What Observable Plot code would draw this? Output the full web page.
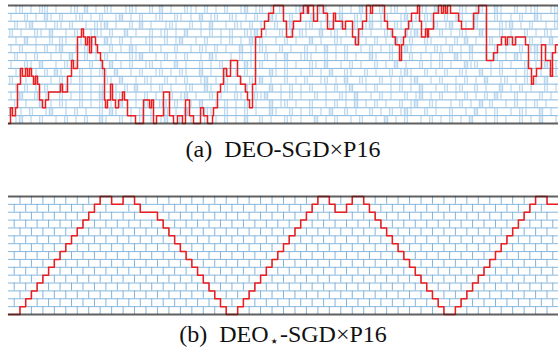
<!DOCTYPE html>
<html><head><meta charset="utf-8">
<script src="https://cdn.jsdelivr.net/npm/d3@7"></script>
<script src="https://cdn.jsdelivr.net/npm/@observablehq/plot@0.6"></script>
<style>
html,body{margin:0;padding:0;background:#fff;}
#wrap{position:relative;width:558px;height:354px;overflow:hidden;background:#fff;}
#pa{position:absolute;left:0;top:0;}
#pb{position:absolute;left:0;top:191px;}
.cap{position:absolute;left:0;width:566px;text-align:center;font-family:"Liberation Serif","DejaVu Serif",serif;font-size:24px;line-height:24px;color:#111;white-space:nowrap;}
.st{font-family:"DejaVu Sans",sans-serif;font-size:15px;position:relative;top:4px;margin:0 1px;}
</style></head><body>
<div id="wrap">
  <div id="pa"></div>
  <div class="cap" style="top:137px">(a)&ensp;DEO-SGD×P16</div>
  <div id="pb"></div>
  <div class="cap" style="top:322px">(b)&ensp;DEO<span class="st">⋆</span>-SGD×P16</div>
</div>
<script>
// ---------- shared ----------
const innerLevels = [1,2,3,4,5,6,7,8,9,10,11,12,13,14];
const borderLevels = [0,15];
const pairs = [0,1,2,3,4,5,6,7,8,9,10,11,12,13,14];

// ---------- panel (a): DEO-SGD x P16 ----------
// red chain path: change points (iteration, level)
const aIter = [0,2,4,7,9,12,14,17,19,21,23,25,27,29,31,34,37,40,52,54,59,63,65,69,73,75,77,79,81,83,87,89,92,94,96,97,99,102,104,107,110,114,116,119,127,
  135,141,143,145,148,155,161,165,169,174,177,181,185,192,195,199,204,205,209,212,215,218,222,229,232,237,239,241,244,247,253,256,260,265,
  275,278,284,285,292,295,299,300,305,309,315,319,325,327,334,337,344,347,350,354,358,362,364,376,379,384,387,391,393,395,397,400,403,409,
  411,413,417,419,420,425,430,433,435,437,439,442,450,453,465,470,478,485,489,493,497,499,504,507,517,520,523,525,528,533,537,542,544,547];
const aLevel = [0,2,1,2,5,7,6,7,6,7,6,5,6,5,3,2,3,4,5,4,6,8,7,11,12,11,10,11,9,11,10,9,8,7,3,2,3,5,3,2,3,4,3,1,0,
  3,2,3,0,1,4,1,0,1,0,3,1,0,2,1,0,1,2,4,5,7,6,8,6,5,4,3,2,5,11,12,13,14,15,
  13,11,12,13,14,15,14,15,13,15,14,12,14,13,12,13,11,10,12,13,15,14,15,13,12,11,10,8,10,11,12,13,14,15,
  13,11,12,11,12,14,15,14,15,14,15,14,13,12,14,15,8,9,10,11,10,11,10,11,10,7,5,6,7,10,8,6,9,10];

// swap marks between neighbouring levels, top pair (14-15) first; digits = marks per 5-iteration bin
const aSwapRows = [
  "0120102201 0012030102 1001210020 3010021102 0102001301 2010200131 0021002010 3100201201 0021030100 2101200310 0201120012",
  "1002010310 2001201020 0130102001 2002101030 1200210102 0031002010 1201003002 1020120013 0102100201 2003010210 1020031002",
  "0201300102 1020010213 0100203010 0121002010 3001021020 1002013001 2010201002 0130100210 2001020130 0102010021 3010200102",
  "2010021030 0102001210 2003010020 1201030010 2010200213 0100201021 0030120100 2010021002 1301002010 2100310020 1002010210",
  "0103010020 2100102003 1020100120 0201300102 0010201031 2001020100 3010021002 0102010310 2002100102 0301002010 2100201030",
  "1020010201 3001020100 2010310020 1002001021 0201003010 2100201002 0103010200 1020102003 1001021020 1030010201 0020130100",
  "0201020010 1030020102 0100213001 0201020010 3100102010 0201030012 1002010201 0031002010 2010102003 1020010201 0310020010",
  "1002103001 0201002010 3010200120 1003010020 1020100310 2001020100 2103001020 1002010301 0020102010 0312001020 1002010301",
  "0120010203 1000201021 0300102001 2010210030 1002010201 0031020010 2010300210 0201002013 1002010200 2100301020 0102001021",
  "2001030010 2010201002 1030010210 0201020013 0102001020 3010020102 0012010300 2100201020 1300102001 0201030012 0102010300",
  "0102010200 3100201020 0102030010 2010012003 1002010201 0030102010 2001020130 0102001020 1030010201 2002010030 1020100201",
  "1030020100 2010201030 0120010201 0020130100 2010021002 1300102010 0201002103 0010201002 0130102001 0201020310 0201002010",
  "0201003010 2100201020 1030010200 2102001030 0102010201 0030120100 2001020103 0102010020 1300210010 2010302001 0201020100",
  "2010200130 0102010020 3100102010 0201030012 1002010201 0031002010 2010300201 0020102013 1002010020 0103010200 1021003010",
  "0130102001 0201020031 0020102010 1300201002 0102010300 2010021010 0301020010 2001030102 0010201020 1030010201 0020103001"
];
const aMaxIter = 550;

// ---------- panel (b): DEO*-SGD x P16 ----------
const bStepMax = 96;
const bAttemptSteps = [1,2,3,4,5,6,7,8,9,10,11,12,13,14,15,16,17,18,19,20,21,22,23,24,25,26,27,28,29,30,31,32,33,34,35,36,37,38,39,40,
  41,42,43,44,45,46,47,48,49,50,51,52,53,54,55,56,57,58,59,60,61,62,63,64,65,66,67,68,69,70,71,72,73,74,75,76,77,78,79,80,
  81,82,83,84,85,86,87,88,89,90,91,92,93,94,95];
const bStep = [0,2,3,4,5,6,7,8,9,10,11,12,13,14,15,16,18,20,22,23,26,27,28,29,30,31,32,33,34,35,36,37,38,40,41,42,43,44,45,46,47,48,49,50,51,52,53,54,56,57,59,60,62,63,64,65,66,67,68,69,70,71,72,73,74,75,76,78,79,80,81,82,83,84,85,86,87,88,89,90,91,92,94];
const bLevel = [0,1,2,3,4,5,6,7,8,9,10,11,12,13,14,15,14,15,14,13,12,11,10,9,8,7,6,5,4,3,2,1,0,1,2,3,4,5,6,7,8,9,10,11,12,13,14,15,14,13,14,15,14,13,12,11,10,9,8,7,6,5,4,3,2,1,0,1,2,3,4,5,6,7,8,9,10,11,12,13,14,15,14];

// ---------- build tables ----------
const aPath = aIter.map((u, i) => ({u, level: aLevel[i]}));
aPath.push({u: aMaxIter, level: aLevel[aLevel.length - 1]});
const aMarks = [];
aSwapRows.forEach((s, r) => {
  const pair = pairs[pairs.length - 1 - r];
  const str = s.replace(/\s/g, "");
  for (let b = 0; b < str.length; b++) {
    const n = +str[b];
    for (let k = 0; k < n; k++) aMarks.push({u: b * 5 + (k + 0.5) * 5 / n, pair});
  }
});
for (let i = 1; i < aIter.length; i++) {
  const lo = Math.min(aLevel[i - 1], aLevel[i]), hi = Math.max(aLevel[i - 1], aLevel[i]);
  for (let p = lo; p < hi; p++) aMarks.push({u: aIter[i], pair: p});
}

const bPath = bStep.map((t, i) => ({t, level: bLevel[i]}));
bPath.push({t: bStepMax, level: bLevel[bLevel.length - 1]});
function bLevelAt(t) {
  let l = bLevel[0];
  for (let i = 0; i < bStep.length; i++) if (bStep[i] <= t) l = bLevel[i];
  return l;
}
const bMarks = [];
for (const t of bAttemptSteps) {
  const before = bLevelAt(t - 0.5), after = bLevelAt(t);
  let rejected = -1;
  if (before === after) {
    if (before % 2 === t % 2 && before < 15) rejected = before;
    else if ((before - 1) % 2 === t % 2 && before > 0) rejected = before - 1;
  }
  for (const p of pairs) {
    if (p % 2 !== t % 2) continue;
    if (p === rejected) continue;
    bMarks.push({t, pair: p});
  }
}

const common = {width: 558, height: 128, marginLeft: 8, marginRight: 0, marginTop: 5, marginBottom: 5,
  style: {background: "transparent", overflow: "visible"}};
const lineBlue = "#86b8dd";

const plotA = Plot.plot({
  ...common,
  x: {domain: [0, aMaxIter], axis: null},
  y: {domain: [0, 15], axis: null},
  marks: [
    Plot.ruleY(innerLevels, {stroke: lineBlue, strokeWidth: 1}),
    Plot.ruleX(aMarks, {x: "u", y1: "pair", y2: d => d.pair + 1, stroke: "#9cc6e6", strokeOpacity: 0.85, strokeWidth: 1}),
    Plot.line(aPath, {x: "u", y: "level", curve: "step-after", stroke: "#ee1c1c", strokeWidth: 1.5}),
    Plot.ruleY(borderLevels, {stroke: "#222", strokeOpacity: 0.72, strokeWidth: 2})
  ]
});
document.getElementById("pa").appendChild(plotA);

const plotB = Plot.plot({
  ...common,
  x: {domain: [0, bStepMax], axis: null},
  y: {domain: [0, 15], axis: null},
  marks: [
    Plot.ruleY(innerLevels, {stroke: lineBlue, strokeWidth: 1}),
    Plot.ruleX(bMarks, {x: "t", y1: "pair", y2: d => d.pair + 1, stroke: "#84b3d9", strokeWidth: 1}),
    Plot.line(bPath, {x: "t", y: "level", curve: "step-after", stroke: "#ee1c1c", strokeWidth: 1.5}),
    Plot.ruleY(borderLevels, {stroke: "#222", strokeOpacity: 0.72, strokeWidth: 2})
  ]
});
document.getElementById("pb").appendChild(plotB);
</script>
</body></html>
